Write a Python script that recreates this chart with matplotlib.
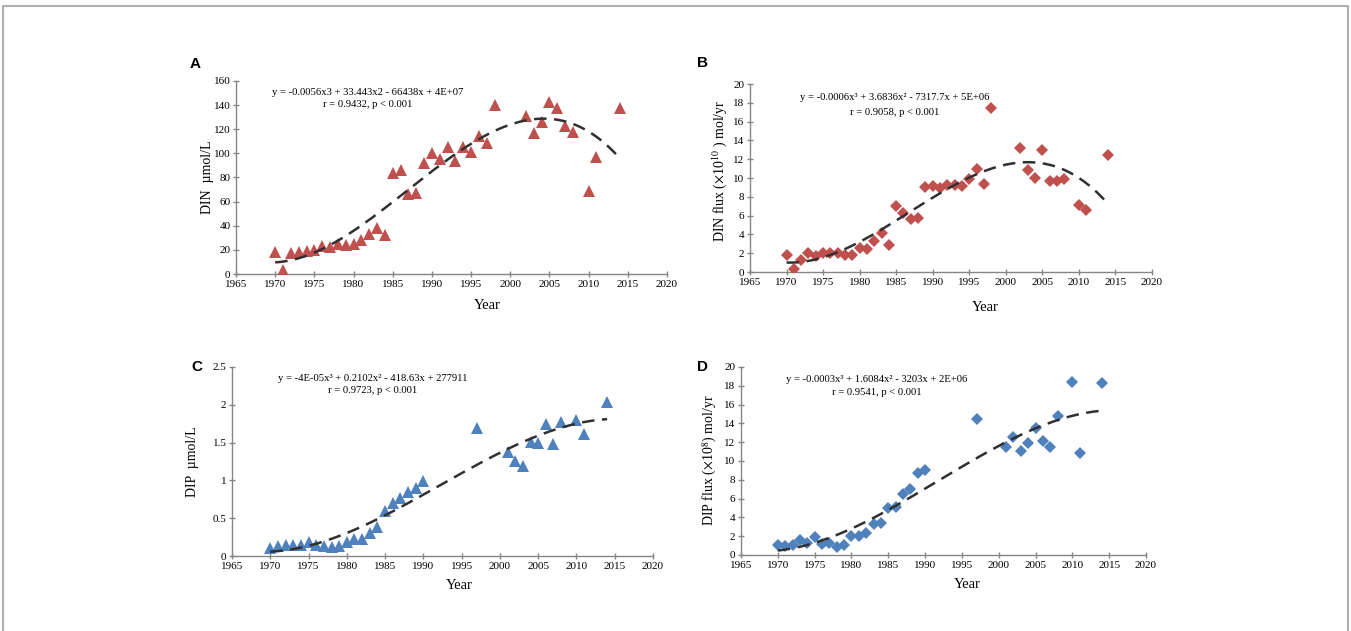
import numpy as np
import matplotlib
matplotlib.use("Agg")
import matplotlib.pyplot as plt

plt.rcParams['font.family'] = ['Liberation Serif', 'DejaVu Serif']
plt.rcParams['mathtext.fontset'] = 'stix'

# ---- data ----
years_din = [1970, 1971, 1972, 1973, 1974, 1975, 1976, 1977, 1978, 1979,
             1980, 1981, 1982, 1983, 1984, 1985, 1986, 1987, 1988, 1989,
             1990, 1991, 1992, 1993, 1994, 1995, 1996, 1997, 1998,
             2002, 2003, 2004, 2005, 2006, 2007, 2008, 2010, 2011, 2014]
din_conc = [18, 3, 17, 18, 19, 20, 23, 22, 25, 24,
            25, 28, 33, 38, 32, 84, 86, 66, 67, 92,
            100, 95, 105, 94, 105, 101, 114, 109, 140,
            131, 117, 126, 143, 138, 123, 118, 69, 97, 138]
din_flux = [1.85, 0.3, 1.3, 2.05, 1.7, 2.05, 2.0, 2.05, 1.8, 1.85,
            2.6, 2.5, 3.25, 4.2, 2.9, 7.05, 6.25, 5.65, 5.7, 9.0,
            9.15, 8.95, 9.25, 9.25, 9.1, 9.9, 10.95, 9.35, 17.5,
            13.15, 10.9, 10.05, 13.0, 9.7, 9.65, 9.85, 7.1, 6.6, 12.45]

years_dip = [1970, 1971, 1972, 1973, 1974, 1975, 1976, 1977, 1978, 1979,
             1980, 1981, 1982, 1983, 1984, 1985, 1986, 1987, 1988, 1989,
             1990, 1997, 2001, 2002, 2003, 2004, 2005, 2006, 2007, 2008,
             2010, 2011, 2014]
dip_conc = [0.10, 0.13, 0.14, 0.14, 0.14, 0.18, 0.14, 0.13, 0.12, 0.13,
            0.19, 0.22, 0.23, 0.30, 0.38, 0.60, 0.70, 0.77, 0.84, 0.90,
            0.99, 1.69, 1.38, 1.26, 1.19, 1.51, 1.50, 1.74, 1.48, 1.77,
            1.80, 1.62, 2.04]
dip_flux = [1.1, 1.0, 1.1, 1.55, 1.25, 1.95, 1.2, 1.25, 0.9, 1.05,
            2.0, 2.0, 2.35, 3.35, 3.4, 5.05, 5.1, 6.5, 7.05, 8.7,
            9.05, 14.45, 11.45, 12.55, 11.05, 11.95, 13.55, 12.15, 11.45, 14.75,
            18.45, 10.85, 18.25]

red = '#C0504D'
blue = '#4F81BD'
W, H = 1351, 631

fig = plt.figure(figsize=(W / 100, H / 100), dpi=100)

# thin grey frame (top, left, right)
fig.add_artist(plt.Line2D([3 / W, 3 / W, 1348 / W, 1348 / W],
                          [0, 1 - 6 / H, 1 - 6 / H, 0],
                          transform=fig.transFigure, color='#b0b0b0', lw=1.5))


def px_axes(l, r, t, b):
    return fig.add_axes([l / W, 1 - b / H, (r - l) / W, (b - t) / H])


panels = [
    dict(box=(236, 667, 81, 274), x=years_din, y=din_conc, c=red, m='^',
         ylim=(0, 160), yticks=np.arange(0, 161, 20),
         ylabel='DIN  µmol/L', ylab=(-0.051, 0.5), xlab=(0.582, -0.13),
         eq='y = -0.0056x3 + 33.443x2 - 66438x + 4E+07',
         r='r = 0.9432, p < 0.001', eqpos=(0.306, 0.938, 0.876),
         letter='A', lpos=(195, 64)),
    dict(box=(750, 1152, 84, 272), x=years_din, y=din_flux, c=red, m='D',
         ylim=(0, 20), yticks=np.arange(0, 21, 2),
         ylabel=r'DIN flux ($\times$10$^{10}$ ) mol/yr', ylab=(-0.052, 0.54),
         xlab=(0.585, -0.154),
         eq='y = -0.0006x³ + 3.6836x² - 7317.7x + 5E+06',
         r='r = 0.9058, p < 0.001', eqpos=(0.36, 0.926, 0.851),
         letter='B', lpos=(702, 63)),
    dict(box=(232, 653, 367, 556), x=years_dip, y=dip_conc, c=blue, m='^',
         ylim=(0, 2.5), yticks=np.arange(0, 2.51, 0.5),
         ylabel='DIP  µmol/L', ylab=(-0.078, 0.497), xlab=(0.54, -0.122),
         eq='y = -4E-05x³ + 0.2102x² - 418.63x + 277911',
         r='r = 0.9723, p < 0.001', eqpos=(0.335, 0.937, 0.878),
         letter='C', lpos=(197, 367)),
    dict(box=(741, 1146, 367, 555), x=years_dip, y=dip_flux, c=blue, m='D',
         ylim=(0, 20), yticks=np.arange(0, 21, 2),
         ylabel=r'DIP flux ($\times$10$^{8}$) mol/yr', ylab=(-0.054, 0.505),
         xlab=(0.558, -0.122),
         eq='y = -0.0003x³ + 1.6084x² - 3203x + 2E+06',
         r='r = 0.9541, p < 0.001', eqpos=(0.336, 0.936, 0.867),
         letter='D', lpos=(703, 367)),
]

for p in panels:
    ax = px_axes(*p['box'])
    x = np.array(p['x'], dtype=float)
    y = np.array(p['y'], dtype=float)
    ms = 8.5 if p['m'] == '^' else 6.2
    ax.plot(x, y, linestyle='none', marker=p['m'], color=p['c'],
            markersize=ms, markeredgewidth=0, zorder=3)

    # cubic trend line
    coef = np.polyfit(x - 1990, y, 3)
    xs = np.linspace(x.min(), x.max(), 200)
    ax.plot(xs, np.polyval(coef, xs - 1990), color='#303030', lw=1.8,
            dashes=(5, 3), zorder=4)

    ax.set_xlim(1965, 2020)
    ax.set_xticks(np.arange(1965, 2021, 5))
    ax.set_ylim(*p['ylim'])
    ax.set_yticks(p['yticks'])
    ax.set_yticklabels(['{:g}'.format(round(v, 2)) for v in p['yticks']])
    for s in ['top', 'right']:
        ax.spines[s].set_visible(False)
    for s in ['left', 'bottom']:
        ax.spines[s].set_color('#868686')
        ax.spines[s].set_linewidth(1)
    ax.tick_params(direction='inout', length=4, width=1, color='#868686',
                   labelsize=8, pad=2)
    ax.set_xlabel('Year', fontsize=10.5)
    ax.xaxis.set_label_coords(*p['xlab'])
    ax.set_ylabel(p['ylabel'], fontsize=10)
    ax.yaxis.set_label_coords(*p['ylab'])

    ex, ey1, ey2 = p['eqpos']
    ax.text(ex, ey1, p['eq'], transform=ax.transAxes, ha='center',
            va='center', fontsize=7.7)
    ax.text(ex, ey2, p['r'], transform=ax.transAxes, ha='center',
            va='center', fontsize=7.7)

    fig.text(p['lpos'][0] / W, 1 - p['lpos'][1] / H, p['letter'],
             family='Liberation Sans', weight='bold', fontsize=11,
             ha='center', va='center')

fig.savefig('out.png', dpi=100)
